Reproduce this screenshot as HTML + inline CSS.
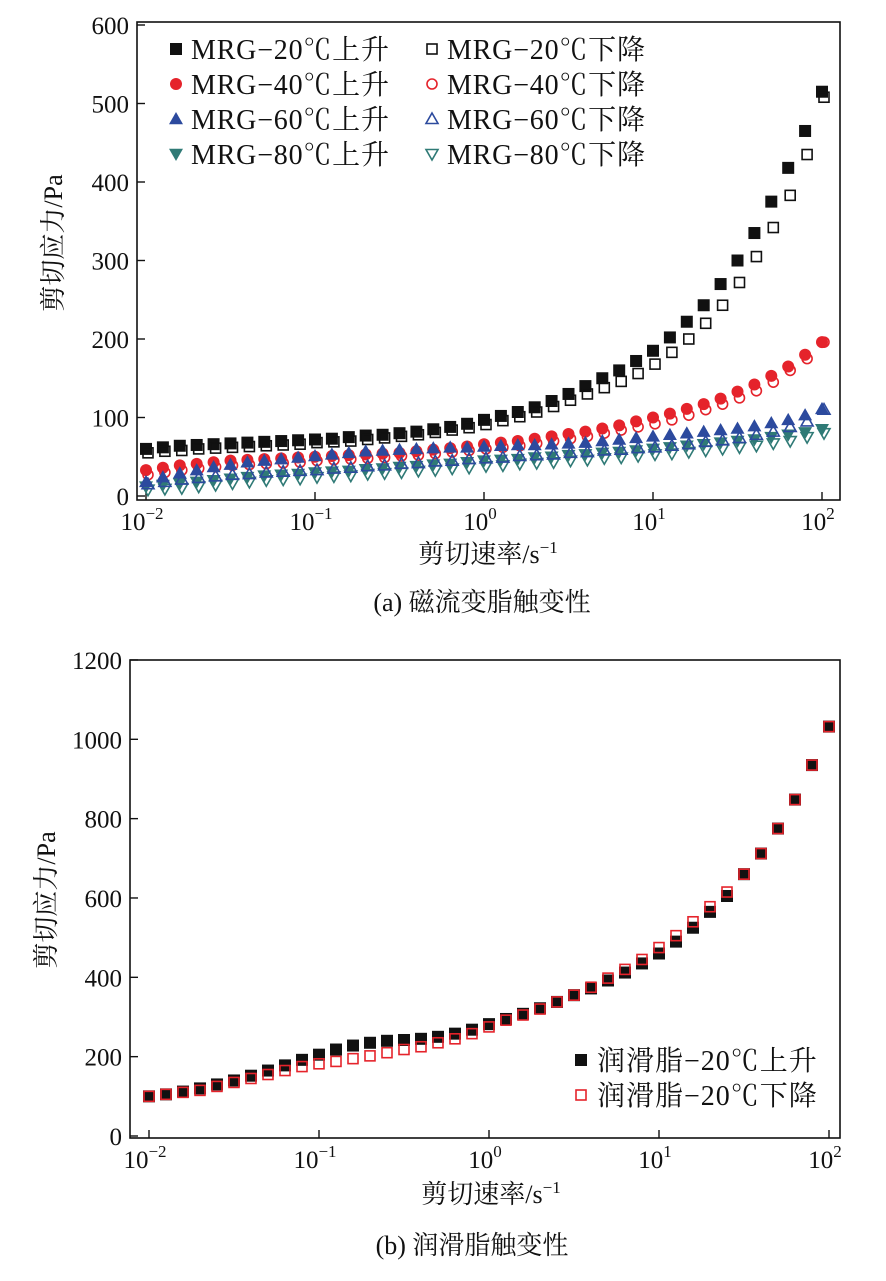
<!DOCTYPE html>
<html><head><meta charset="utf-8"><style>
html,body{margin:0;padding:0;background:#fff;}
svg{display:block;font-family:"Liberation Serif","Noto Serif CJK SC","Noto Sans CJK SC",serif;}
</style></head><body>
<svg id="fig" width="886" height="1281" viewBox="0 0 886 1281"></svg>
<script>
const xExp = [];
for (let i = 0; i <= 40; i++) xExp.push(-2 + i / 10);
const mrg20Up = [60,62,64,65,66,67,68,69,70,71,72,73,75,77,78,80,82,85,88,92,97,102,107,113,121,130,140,150,160,172,185,202,222,243,270,300,335,375,418,465,515];
const mrg20Down = [55,57,58,60,61,62,63,64,65,66,68,69,70,72,74,76,78,81,84,87,91,96,101,107,114,122,130,138,146,156,168,183,200,220,243,272,305,342,383,435,508];
const mrg40Up = [33,36,39,41,43,45,46,47,48,49,50,51,52,53,54,55,57,59,61,63,66,68,70,73,76,79,82,86,90,95,100,105,111,117,124,133,142,153,165,180,196];
const mrg40Down = [27,30,33,35,37,39,40,41,42,43,45,46,47,48,49,51,52,54,56,58,60,62,64,67,70,73,76,80,84,88,92,97,103,110,117,125,134,145,160,175,196];
const mrg60Up = [18,24,29,33,37,40,43,45,47,49,51,53,55,57,58,59,60,61,62,62,63,64,65,65,66,67,68,70,72,74,76,78,80,82,84,86,89,93,97,103,111];
const mrg60Down = [15,18,21,23,25,27,28,30,31,32,33,35,36,38,39,41,42,44,45,47,48,49,51,52,53,55,56,58,59,61,62,64,66,69,71,74,78,82,88,95,110];
const mrg80Up = [12,14,16,18,20,22,24,26,27,28,30,31,32,34,35,37,38,40,41,43,45,46,47,49,50,52,53,55,56,58,60,62,64,66,68,70,72,75,78,81,85];
const mrg80Down = [8,9,10,12,14,16,18,20,21,22,24,25,26,28,29,30,32,33,35,36,38,39,41,42,43,45,46,48,49,51,53,54,56,58,60,62,64,67,70,75,80];
const greaseUp = [100,105,112,120,130,140,152,165,178,192,205,218,228,235,240,242,245,250,258,268,282,295,308,322,338,355,372,392,412,435,460,490,525,565,605,660,712,775,848,935,1032];
const greaseDown = [100,105,110,115,125,135,145,155,165,175,182,188,195,202,210,218,225,235,245,258,275,292,305,320,338,355,375,398,420,445,475,505,540,578,615,660,712,775,848,935,1032];
const yTicksA = [0,100,200,300,400,500,600];
const yTicksB = [0,200,400,600,800,1000,1200];
const xTickExp = [-2,-1,0,1,2];

const NS = "http://www.w3.org/2000/svg";
const svg = document.getElementById('fig');
function el(tag, attrs, parent) {
  const e = document.createElementNS(NS, tag);
  for (const k in attrs) e.setAttribute(k, attrs[k]);
  (parent || svg).appendChild(e);
  return e;
}
const RED = "#e5232b", BLUE = "#2c4a9e", TEAL = "#2f7a76", BLACK = "#111";

function marker(g, shape, cx, cy, color, filled) {
  const s = 6;
  let m;
  const fill = filled ? color : "none";
  const sw = filled ? 0 : 1.6;
  if (shape === 'sq') {
    const h = filled ? s : s - 1;
    m = el('rect', {x: cx - h, y: cy - h, width: 2 * h, height: 2 * h, fill: fill, stroke: color, 'stroke-width': sw}, g);
  } else if (shape === 'ci') {
    m = el('circle', {cx: cx, cy: cy, r: filled ? s : s - 1, fill: fill, stroke: color, 'stroke-width': sw}, g);
  } else if (shape === 'up') {
    const h = filled ? 7 : 6;
    m = el('polygon', {points: `${cx},${cy - h} ${cx + h},${cy + h * 0.75} ${cx - h},${cy + h * 0.75}`, fill: fill, stroke: color, 'stroke-width': sw}, g);
  } else {
    const h = filled ? 7 : 6;
    m = el('polygon', {points: `${cx - h},${cy - h * 0.75} ${cx + h},${cy - h * 0.75} ${cx},${cy + h}`, fill: fill, stroke: color, 'stroke-width': sw}, g);
  }
  return m;
}

function drawPanel(cfg) {
  const {L, R, T, B, x0, xDec, y0, yScale, yTicks, name, off} = cfg;
  const g = el('g', {});
  
  
  const xs = e => x0 + (e + 2) * xDec;
  const ys = v => y0 - v * yScale;
  const frame = el('rect', {x: L, y: T, width: R - L, height: B - T, fill: 'none', stroke: '#111', 'stroke-width': 1.6}, g);
  
  
  yTicks.forEach(v => {
    const y = ys(v);
    const t = el('line', {x1: L, x2: L + 8, y1: y, y2: y, stroke: '#111', 'stroke-width': 1.4}, g);
    
    
    const lb = el('text', {x: L - 8, y: y + 9, 'text-anchor': 'end', 'font-size': 25, fill: '#111'}, g);
    lb.textContent = v;
    
    
  });
  xTickExp.forEach(e => {
    const x = xs(e);
    const t = el('line', {x1: x, x2: x, y1: B, y2: B - 8, stroke: '#111', 'stroke-width': 1.4}, g);
    
    
    const lb = el('text', {x: x - 4, y: B + 30, 'text-anchor': 'middle', 'font-size': 25, fill: '#111'}, g);
    
    
    const t1 = el('tspan', {}, lb); t1.textContent = '10';
    const t2 = el('tspan', {dy: -11, 'font-size': 17}, lb); t2.textContent = e < 0 ? '−' + (-e) : String(e);
  });
  cfg.series.forEach(s => {
    const sg = el('g', {}, g);
    
    
    s.data.forEach((v, i) => {
      const m = marker(sg, s.shape, xs(xExp[i]) + (s.filled ? 0 : off), ys(v), s.color, s.filled);
      
      
    });
  });
  return g;
}

const seriesA = [
  {name: 'series-mrg20-up', data: mrg20Up, shape: 'sq', color: BLACK, filled: true},
  {name: 'series-mrg20-down', data: mrg20Down, shape: 'sq', color: BLACK, filled: false},
  {name: 'series-mrg40-up', data: mrg40Up, shape: 'ci', color: RED, filled: true},
  {name: 'series-mrg40-down', data: mrg40Down, shape: 'ci', color: RED, filled: false},
  {name: 'series-mrg80-up', data: mrg80Up, shape: 'dn', color: TEAL, filled: true},
  {name: 'series-mrg80-down', data: mrg80Down, shape: 'dn', color: TEAL, filled: false},
  {name: 'series-mrg60-up', data: mrg60Up, shape: 'up', color: BLUE, filled: true},
  {name: 'series-mrg60-down', data: mrg60Down, shape: 'up', color: BLUE, filled: false}
];
drawPanel({name: 'chart-a', L: 137, R: 840, T: 22, B: 500, x0: 146, xDec: 169, y0: 496, yScale: 0.785, yTicks: yTicksA, series: seriesA, off: 2});

const seriesB = [
  {name: 'series-grease-up', data: greaseUp, shape: 'sq', color: BLACK, filled: true},
  {name: 'series-grease-down', data: greaseDown, shape: 'sq', color: RED, filled: false}
];
drawPanel({name: 'chart-b', L: 130, R: 840, T: 660, B: 1138, x0: 149, xDec: 170, y0: 1136, yScale: 0.3967, yTicks: yTicksB, series: seriesB, off: 0});

function text(x, y, str, size, name, anchor, rot) {
  const t = el('text', {x: x, y: y, 'font-size': size, fill: '#111', 'text-anchor': anchor || 'start'});
  if (rot) t.setAttribute('transform', `rotate(-90 ${x} ${y})`);
  t.textContent = str;
  
  
  return t;
}
const legA = [
  ['MRG−20℃上升', 'sq', BLACK, true, 176, 49], ['MRG−20℃下降', 'sq', BLACK, false, 432, 49],
  ['MRG−40℃上升', 'ci', RED, true, 176, 84], ['MRG−40℃下降', 'ci', RED, false, 432, 84],
  ['MRG−60℃上升', 'up', BLUE, true, 176, 119], ['MRG−60℃下降', 'up', BLUE, false, 432, 119],
  ['MRG−80℃上升', 'dn', TEAL, true, 176, 154], ['MRG−80℃下降', 'dn', TEAL, false, 432, 154]
];
legA.forEach(l => {
  const g = el('g', {});
  
  
  marker(g, l[1], l[4], l[5], l[2], l[3]);
  const t = el('text', {x: l[4] + 15, y: l[5] + 10, 'font-size': 28, 'letter-spacing': 0.8, fill: '#111'}, g);
  t.textContent = l[0];
});
const legB = [['润滑脂−20℃上升', BLACK, true, 581, 1060], ['润滑脂−20℃下降', RED, false, 581, 1095]];
legB.forEach(l => {
  const g = el('g', {});
  
  
  marker(g, 'sq', l[3], l[4], l[1], l[2]);
  const t = el('text', {x: l[3] + 16, y: l[4] + 10, 'font-size': 28, 'letter-spacing': 1, fill: '#111'}, g);
  t.textContent = l[0];
});
text(62, 243, '剪切应力/Pa', 26, 'y-axis-title-a', 'middle', true);
text(55, 900, '剪切应力/Pa', 26, 'y-axis-title-b', 'middle', true);
const xa = text(488, 563, '剪切速率/s', 26, 'x-axis-title-a', 'middle');
const s1 = el('tspan', {dy: -10, 'font-size': 17}, xa); s1.textContent = '−1';
const xb = text(491, 1203, '剪切速率/s', 26, 'x-axis-title-b', 'middle');
const s2 = el('tspan', {dy: -10, 'font-size': 17}, xb); s2.textContent = '−1';
text(482, 611, '(a) 磁流变脂触变性', 26, 'caption-a', 'middle');
text(472, 1254, '(b) 润滑脂触变性', 26, 'caption-b', 'middle');
</script>
</body></html>
